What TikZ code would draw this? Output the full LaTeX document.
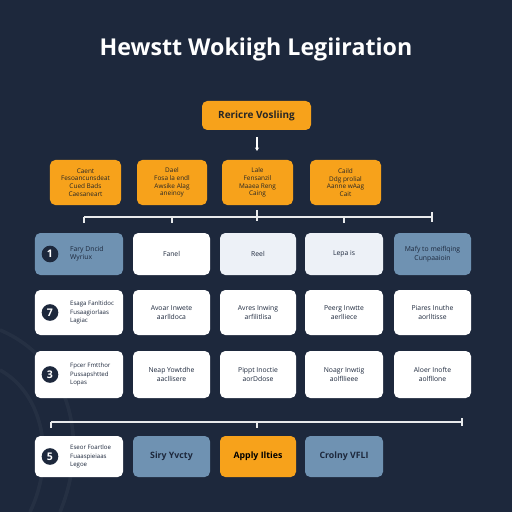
\documentclass[tikz,border=0pt]{standalone}
\usepackage{fontspec}
\setmainfont{Open Sans}
\usetikzlibrary{arrows.meta}

\definecolor{navy}{HTML}{1D283C}
\definecolor{amber}{HTML}{F7A21B}
\definecolor{steel}{HTML}{6F92B2}
\definecolor{pale}{HTML}{EDF1F7}

\tikzset{
  card/.style={rounded corners=4.5pt, align=center, inner sep=1pt, text=navy, font=\fontsize{5.8}{7.2}\selectfont},
  ambercard/.style={card, fill=amber, text=black!85, font=\fontsize{5.5}{6.6}\selectfont},
  numdot/.style={circle, fill=navy, text=white, inner sep=0pt, minimum size=0.5cm, font=\bfseries\fontsize{9}{9}\selectfont},
  bracket/.style={white!90!navy, line width=1.1pt}
}

\begin{document}
\begin{tikzpicture}[x=0.03cm, y=-0.03cm]

\fill [navy] (0,0) rectangle (512,512);
\useasboundingbox (0,0) rectangle (512,512);

% faint swirls bottom left
\draw [white, opacity=0.04, line width=3pt] (0,330) .. controls (70,360) and (90,440) .. (60,512);
\draw [white, opacity=0.04, line width=3pt] (0,370) .. controls (45,395) and (55,460) .. (30,512);

\node (title) [text=white, font=\bfseries\fontsize{19.8}{20}\selectfont] at (256,49) {Hewstt Wokiigh Legiiration};

\node (top) [ambercard, minimum width=3.27cm, minimum height=0.87cm, font=\bfseries\fontsize{8.5}{8.5}\selectfont] at (256.5,115.5) {Rericre Vosliing};

\coordinate (arrS) at (257,137);
\coordinate (arrE) at (257,151);
\draw [white, line width=0.9pt, -{Stealth[length=3pt,width=3.5pt]}] (arrS) -- (arrE);

% orange row
\node (oa) [ambercard, minimum width=2.13cm, minimum height=1.35cm] at (85.5,182.5) {Caent\\Fesoancunsdeat\\Cued Bads\\Caesaneart};
\node (ob) [ambercard, minimum width=2.10cm, minimum height=1.35cm] at (172,182.5) {Dael\\Fosa la endl\\Awsike Alag\\aneinoy};
\node (oc) [ambercard, minimum width=2.13cm, minimum height=1.35cm] at (257.5,182.5) {Lale\\Fensanzil\\Maaea Reng\\Caing};
\node (od) [ambercard, minimum width=2.13cm, minimum height=1.35cm] at (345.5,182.5) {Caild\\Ddg prolial\\Aanne wAag\\Cait};

% upper bracket
\coordinate (ul) at (84,217);
\coordinate (ur) at (432,217);
\draw [bracket] (ul) -- (ur);
\draw [bracket] (ul) -- ++(0,6);
\draw [bracket] (172,217) -- ++(0,6);
\draw [bracket] (257,210) -- (257,221);
\draw [bracket] (344,217) -- ++(0,6);
\draw [bracket] (432,212) -- (432,222);

% row 1
\node (r1a) [card, fill=steel, minimum width=2.64cm, minimum height=1.26cm] at (79,254) {};
\node (n1) [numdot] at (50,254) {1};
\node (t1) [anchor=west, align=left, text=navy, font=\fontsize{5.8}{7.2}\selectfont] at (66,254) {Fary Dncid\\Wyriux};
\node (r1b) [card, fill=white, minimum width=2.31cm, minimum height=1.26cm] at (171.5,254) {Fanel};
\node (r1c) [card, fill=pale, minimum width=2.28cm, minimum height=1.26cm] at (258,254) {Reel};
\node (r1d) [card, fill=pale, minimum width=2.34cm, minimum height=1.26cm] at (344,254) {Lepa is};
\node (r1e) [card, fill=steel, minimum width=2.31cm, minimum height=1.26cm] at (432.5,254) {Mafy to meiflqing\\Cunpaaioin};

% row 2
\node (r2a) [card, fill=white, minimum width=2.64cm, minimum height=1.35cm] at (79,312.5) {};
\node (n2) [numdot] at (50,312.5) {7};
\node (t2) [anchor=west, align=left, text=navy, font=\fontsize{5.2}{7.2}\selectfont] at (66,312.5) {Esaga Fanltidoc\\Fusaagiorlaas\\Lagiac};
\node (r2b) [card, fill=white, minimum width=2.31cm, minimum height=1.35cm] at (171.5,312.5) {Avoar Inwete\\aarlldoca};
\node (r2c) [card, fill=white, minimum width=2.28cm, minimum height=1.35cm] at (258,312.5) {Avres Inwing\\arfilitlisa};
\node (r2d) [card, fill=white, minimum width=2.34cm, minimum height=1.35cm] at (344,312.5) {Peerg Inwtte\\aerlliece};
\node (r2e) [card, fill=white, minimum width=2.31cm, minimum height=1.35cm] at (432.5,312.5) {Piares Inuthe\\aorlltisse};

% row 3
\node (r3a) [card, fill=white, minimum width=2.64cm, minimum height=1.41cm] at (79,374.5) {};
\node (n3) [numdot] at (50,374.5) {3};
\node (t3) [anchor=west, align=left, text=navy, font=\fontsize{5.2}{7.2}\selectfont] at (66,374.5) {Fpcer Fmtthor\\Pussapshtted\\Lopas};
\node (r3b) [card, fill=white, minimum width=2.31cm, minimum height=1.41cm] at (171.5,374.5) {Neap Yowtdhe\\aacllisere};
\node (r3c) [card, fill=white, minimum width=2.28cm, minimum height=1.41cm] at (258,374.5) {Pippt Inoctie\\aorDdose};
\node (r3d) [card, fill=white, minimum width=2.34cm, minimum height=1.41cm] at (344,374.5) {Noagr Inwtig\\aolfllieee};
\node (r3e) [card, fill=white, minimum width=2.31cm, minimum height=1.41cm] at (432.5,374.5) {Aloer Inofte\\aolfllone};

% lower bracket
\coordinate (ll) at (51,422);
\coordinate (lr) at (462,422);
\draw [bracket] (ll) -- (lr);
\draw [bracket] (ll) -- ++(0,6);
\draw [bracket] (257,422) -- ++(0,6);
\draw [bracket] (462,418) -- (462,426);

% row 4
\node (r4a) [card, fill=white, minimum width=2.64cm, minimum height=1.23cm] at (79,456.5) {};
\node (n4) [numdot] at (50,456.5) {5};
\node (t4) [anchor=west, align=left, text=navy, font=\fontsize{5.2}{7.2}\selectfont] at (66,456.5) {Eseor Foartloe\\Fuaaspieiaas\\Legoe};
\node (r4b) [card, fill=steel, minimum width=2.31cm, minimum height=1.23cm, font=\bfseries\fontsize{7.5}{8}\selectfont] at (171.5,456.5) {Siry Yvcty};
\node (r4c) [card, fill=amber, text=black, minimum width=2.28cm, minimum height=1.23cm, font=\bfseries\fontsize{7.5}{8}\selectfont] at (258,456.5) {Apply Ilties};
\node (r4d) [card, fill=steel, minimum width=2.34cm, minimum height=1.23cm, font=\bfseries\fontsize{7.5}{8}\selectfont] at (344,456.5) {Crolny VFLI};

\end{tikzpicture}
\end{document}
